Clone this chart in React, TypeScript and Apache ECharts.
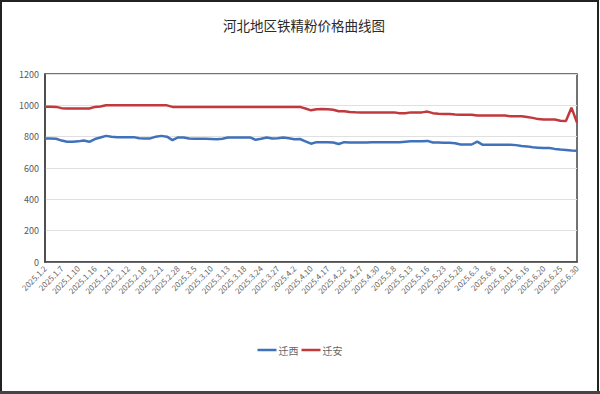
import React, { useEffect, useRef } from "react";
import * as echarts from "echarts";

const dates: string[] = [
  "2025.1.2", "2025.1.3", "2025.1.6",
  "2025.1.7", "2025.1.8", "2025.1.9",
  "2025.1.10", "2025.1.13", "2025.1.14",
  "2025.1.16", "2025.1.17", "2025.1.20",
  "2025.1.21", "2025.1.22", "2025.1.23",
  "2025.2.12", "2025.2.13", "2025.2.14",
  "2025.2.18", "2025.2.19", "2025.2.20",
  "2025.2.21", "2025.2.24", "2025.2.26",
  "2025.2.28", "2025.3.3", "2025.3.4",
  "2025.3.5", "2025.3.6", "2025.3.7",
  "2025.3.10", "2025.3.11", "2025.3.12",
  "2025.3.13", "2025.3.14", "2025.3.17",
  "2025.3.18", "2025.3.19", "2025.3.21",
  "2025.3.24", "2025.3.25", "2025.3.26",
  "2025.3.27", "2025.3.28", "2025.3.31",
  "2025.4.2", "2025.4.3", "2025.4.8",
  "2025.4.10", "2025.4.11", "2025.4.15",
  "2025.4.17", "2025.4.18", "2025.4.21",
  "2025.4.22", "2025.4.23", "2025.4.25",
  "2025.4.27", "2025.4.28", "2025.4.29",
  "2025.4.30", "2025.5.6", "2025.5.7",
  "2025.5.8", "2025.5.9", "2025.5.12",
  "2025.5.13", "2025.5.14", "2025.5.15",
  "2025.5.16", "2025.5.20", "2025.5.22",
  "2025.5.23", "2025.5.26", "2025.5.27",
  "2025.5.28", "2025.5.29", "2025.5.30",
  "2025.6.3", "2025.6.4", "2025.6.5",
  "2025.6.6", "2025.6.9", "2025.6.10",
  "2025.6.11", "2025.6.12", "2025.6.13",
  "2025.6.16", "2025.6.17", "2025.6.19",
  "2025.6.20", "2025.6.23", "2025.6.24",
  "2025.6.25", "2025.6.26", "2025.6.27",
  "2025.6.30",
];

const qianxi: number[] = [
  789, 789, 787,
  775, 767, 767,
  770, 775, 767,
  785, 795, 805,
  800, 797, 797,
  797, 797, 790,
  789, 789, 800,
  805, 800, 778,
  795, 795, 788,
  787, 787, 787,
  785, 783, 787,
  795, 795, 795,
  795, 795, 780,
  787, 795, 788,
  790, 795, 790,
  783, 785, 770,
  755, 765, 765,
  765, 763, 753,
  765, 762, 762,
  762, 763, 765,
  765, 765, 765,
  765, 765, 768,
  770, 770, 770,
  773, 763, 762,
  761, 761, 758,
  750, 750, 750,
  768, 748, 748,
  748, 748, 748,
  748, 746, 740,
  738, 732, 730,
  728, 728, 722,
  718, 715, 712,
  710,
];

const qianan: number[] = [
  991, 991, 990,
  982, 980, 980,
  980, 980, 980,
  990, 992, 1000,
  1000, 1000, 1000,
  1000, 1000, 1000,
  1000, 1000, 1000,
  1000, 1000, 990,
  990, 990, 990,
  990, 990, 990,
  990, 990, 990,
  990, 990, 990,
  990, 990, 990,
  990, 990, 990,
  990, 990, 990,
  990, 990, 980,
  968, 975, 976,
  975, 972, 962,
  962, 958, 956,
  955, 955, 955,
  955, 955, 955,
  955, 950, 950,
  955, 955, 955,
  960, 950, 947,
  945, 945, 942,
  940, 940, 940,
  935, 935, 935,
  935, 935, 935,
  930, 930, 930,
  925, 920, 912,
  910, 910, 910,
  902, 900, 985,
  890,
];

const yTicks = { min: 0, max: 1200, interval: 200 };
const seriesNames = ["迁西", "迁安"];

export default function App() {
  const ref = useRef<HTMLDivElement>(null);
  useEffect(() => {
    document.body.style.margin = "0";
    if (!ref.current) return;
    const chart = echarts.init(ref.current, null, { renderer: "svg" });
    const font = "'Noto Sans CJK SC', 'DejaVu Sans', sans-serif";
    chart.setOption({
      animation: false,
      backgroundColor: "#ffffff",
      title: {
        text: "河北地区铁精粉价格曲线图",
        left: 299,
        textAlign: "center",
        top: 13,
        textStyle: { fontSize: 13.5, fontWeight: "normal", color: "#2a2a2a", fontFamily: font },
      },
      legend: {
        data: seriesNames,
        left: "center",
        top: 340,
        icon: "rect",
        itemWidth: 19,
        itemHeight: 2.5,
        itemGap: 3,
        textStyle: { fontSize: 10, color: "#666", fontFamily: font, padding: [0, 0, 0, -3] },
      },
      grid: {
        left: 45,
        right: 23,
        top: 74,
        bottom: 132,
        show: true,
        borderColor: "#444",
        borderWidth: 1.5,
        containLabel: false,
      },
      xAxis: {
        type: "category",
        data: dates,
        boundaryGap: false,
        axisLine: { show: true, lineStyle: { color: "#444", width: 1.5 } },
        axisTick: { show: false },
        axisLabel: {
          interval: 2,
          rotate: 45,
          fontSize: 8,
          color: "#666",
          margin: 5,
          fontFamily: font,
        },
        splitLine: { show: false },
      },
      yAxis: {
        type: "value",
        min: yTicks.min,
        max: yTicks.max,
        interval: yTicks.interval,
        axisLine: { show: true, lineStyle: { color: "#444", width: 1.5 } },
        axisTick: { show: false },
        axisLabel: {
          fontSize: 9,
          color: "#595959",
          margin: 6,
          fontFamily: font,
          formatter: (v: number) => String(v),
        },
        splitLine: { show: true, lineStyle: { color: "#e0e0e0", width: 1 } },
      },
      series: [
        {
          name: seriesNames[0],
          type: "line",
          data: qianxi,
          showSymbol: false,
          symbol: "none",
          lineStyle: { color: "#3f72bb", width: 2.5 },
          itemStyle: { color: "#3f72bb" },
        },
        {
          name: seriesNames[1],
          type: "line",
          data: qianan,
          showSymbol: false,
          symbol: "none",
          lineStyle: { color: "#c0393d", width: 2.5 },
          itemStyle: { color: "#c0393d" },
        },
      ],
      graphic: [
        {
          type: "rect",
          shape: { x: 1, y: 1, width: 597, height: 391 },
          style: { fill: "none", stroke: "#222", lineWidth: 2 },
          silent: true,
        },
        {
          type: "line",
          shape: { x1: 0, y1: 392.5, x2: 600, y2: 392.5 },
          style: { stroke: "#444", lineWidth: 3 },
          silent: true,
        },
      ],
    });
    return () => chart.dispose();
  }, []);
  return (
    <div
      ref={ref}
      style={{ width: 600, height: 394, position: "absolute", left: 0, top: 0 }}
    />
  );
}
